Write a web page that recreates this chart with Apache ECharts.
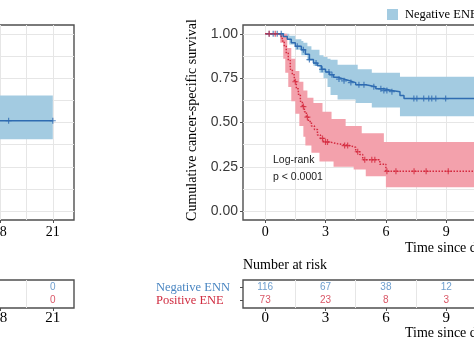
<!DOCTYPE html>
<html><head><meta charset="utf-8">
<script src="https://cdn.jsdelivr.net/npm/echarts@6/dist/echarts.min.js"></script>
<style>html,body{margin:0;padding:0;background:#fff}#c{width:474px;height:362px}</style>
</head><body><div id="c"></div>
<script>
// ---------- data ----------
const negTime = [0, 0.9, 1.1, 1.3, 1.5, 1.8, 2.0, 2.2, 2.4, 2.6, 2.8, 3.0, 3.2, 3.4, 3.6, 3.9, 4.2, 4.5, 5.0, 5.5, 5.9, 6.3, 6.7, 6.9];
const negSurv = [1.0, 0.985, 0.97, 0.95, 0.93, 0.91, 0.885, 0.855, 0.835, 0.82, 0.80, 0.785, 0.77, 0.755, 0.745, 0.735, 0.725, 0.713, 0.702, 0.69, 0.68, 0.674, 0.652, 0.635];
const negEnd = 21;
const negBandTime = [0, 0.9, 1.2, 1.5, 1.8, 1.9, 2.1, 2.3, 2.4, 2.7, 2.9, 3.1, 3.25, 3.6, 4.5, 4.6, 5.3, 6.7];
const negBandLow  = [1.0, 0.97, 0.94, 0.91, 0.88, 0.88, 0.85, 0.85, 0.82, 0.78, 0.75, 0.70, 0.655, 0.63, 0.61, 0.61, 0.585, 0.535];
const negBandHigh = [1.0, 1.0, 0.99, 0.97, 0.96, 0.95, 0.93, 0.91, 0.91, 0.88, 0.87, 0.86, 0.854, 0.826, 0.826, 0.80, 0.78, 0.758];
const negCensor = [0.2, 0.4, 0.6, 0.8, 1.6, 1.9, 2.2, 2.53, 2.83, 3.17, 3.32, 3.67, 3.92, 4.26, 4.66, 4.91, 5.4, 5.75, 5.9, 6.05, 6.3, 7.39, 7.54, 7.88, 8.13, 8.28, 8.48, 8.97];

const posTime = [0, 0.75, 0.85, 0.95, 1.05, 1.15, 1.25, 1.35, 1.45, 1.55, 1.65, 1.75, 1.85, 1.95, 2.05, 2.15, 2.3, 2.45, 2.6, 2.75, 2.9, 3.2, 3.6, 4.2, 4.5, 4.7, 4.85, 5.7, 6.0];
const posSurv = [1.0, 0.985, 0.96, 0.93, 0.89, 0.85, 0.80, 0.77, 0.73, 0.69, 0.66, 0.62, 0.59, 0.56, 0.53, 0.505, 0.48, 0.46, 0.43, 0.41, 0.39, 0.38, 0.37, 0.36, 0.335, 0.32, 0.29, 0.265, 0.225];
const posEnd = 14;
const posBandTime = [0, 0.75, 0.9, 1.0, 1.1, 1.15, 1.3, 1.5, 1.7, 1.9, 2.0, 2.1, 2.3, 2.4, 2.7, 2.85, 3.3, 3.4, 4.0, 4.4, 4.8, 5.0, 5.9, 6.0];
const posBandLow  = [1.0, 0.95, 0.86, 0.78, 0.78, 0.70, 0.62, 0.55, 0.48, 0.42, 0.37, 0.37, 0.33, 0.33, 0.28, 0.28, 0.28, 0.25, 0.25, 0.235, 0.235, 0.197, 0.197, 0.135];
const posBandHigh = [1.0, 1.0, 1.0, 1.0, 0.92, 0.92, 0.86, 0.79, 0.73, 0.68, 0.68, 0.64, 0.64, 0.61, 0.61, 0.56, 0.52, 0.52, 0.48, 0.48, 0.44, 0.44, 0.39, 0.39];
const posCensor = [0.2, 0.5, 1.5, 1.9, 2.1, 2.85, 3.0, 3.1, 3.95, 4.1, 4.6, 4.95, 5.3, 5.45, 6.05, 6.5, 7.4, 8.0, 9.1];

const leftTime = [17, 21];
const leftSurv = [0.51, 0.51];
const leftBandLow = [0.405, 0.405];
const leftBandHigh = [0.652, 0.652];
const leftCensor = [18.5, 21];

const riskTimes = [0, 3, 6, 9];
const riskNeg = [116, 67, 38, 12];
const riskPos = [73, 23, 8, 3];
const leftRiskTimes = [21];
const leftRiskNeg = [0];
const leftRiskPos = [0];

const xTickLabels = [0, 3, 6, 9, 12, 15, 18, 21];
const xGridValues = [0, 1.5, 3, 4.5, 6, 7.5, 9, 10.5, 12, 13.5, 15, 16.5, 18, 19.5, 21, 22.5];
const xRiskGridValues = [1.5, 4.5, 7.5, 10.5, 13.5, 16.5, 19.5, 22.5];
const yTickLabels = [0, 0.25, 0.5, 0.75, 1];
const yGridValues = [0, 0.125, 0.25, 0.375, 0.5, 0.625, 0.75, 0.875, 1];
const riskRowNeg = 2, riskRowPos = 1;
const riskNameNeg = 'Negative ENN', riskNamePos = 'Positive ENE';

// ---------- style ----------
const BLUE = '#2f6cb1', RED = '#d42a3f';
const BLUE_BAND = '#a3cbe1', RED_BAND = '#f3a1ac';
const BLUE_TXT = '#4a86c2', RED_TXT = '#d02c40';
const GRIDC = '#e6e6e6', FRAME = '#4f4f4f';
const SERIF = 'Liberation Serif', SANS = 'Liberation Sans';

const chart = echarts.init(document.getElementById('c'), null, {renderer: 'canvas'});

const grids = [
  {left: -337, top: 25, width: 411, height: 195},   // left main
  {left: 243, top: 25, width: 487, height: 195},    // right main
  {left: -337, top: 280, width: 411, height: 28},   // left risk
  {left: 243, top: 280, width: 487, height: 28}     // right risk
].map(g => Object.assign({show: true, borderColor: FRAME, borderWidth: 1.4, backgroundColor: 'transparent', containLabel: false, outerBoundsMode: 'none'}, g));

const xRange = [[-1.06, 22.2], [-1.1, 23.1], [-1.06, 22.2], [-1.1, 23.1]];
const NOLINE = {show: false, onZero: false};
const xAxes = [], yAxes = [];
function riskLabelAxis(g, row, name, color) {
  return {type: 'value', gridIndex: g, min: 0.4, max: 2.6, position: 'left',
    axisLine: NOLINE, splitLine: {show: false},
    axisTick: {show: true, customValues: [row], length: 3, lineStyle: {color: FRAME}},
    axisLabel: {show: true, customValues: [row], margin: 87, align: 'left', hideOverlap: false,
      formatter: () => name, color: color, fontFamily: SERIF, fontSize: 12.5}};
}
for (let g = 0; g < 4; g++) {
  const isRisk = g >= 2;
  xAxes.push({type: 'value', gridIndex: g, position: 'bottom', min: xRange[g][0], max: xRange[g][1],
    axisLine: NOLINE, axisLabel: {show: false},
    axisTick: {show: false, customValues: isRisk ? xRiskGridValues : xGridValues},
    splitLine: {show: true, lineStyle: {color: GRIDC, width: 1}}});
  xAxes.push({type: 'value', gridIndex: g, position: 'bottom', min: xRange[g][0], max: xRange[g][1],
    axisLine: NOLINE, splitLine: {show: false},
    axisTick: {show: true, customValues: xTickLabels, length: 3, lineStyle: {color: FRAME}},
    axisLabel: {show: true, customValues: xTickLabels, margin: isRisk ? 3 : 5, hideOverlap: false,
      fontFamily: SERIF, fontSize: isRisk ? 15 : 14, color: '#000'}});
  if (!isRisk) {
    yAxes.push({type: 'value', gridIndex: g, position: 'left', min: -0.05, max: 1.05,
      axisLine: NOLINE, axisLabel: {show: false},
      axisTick: {show: false, customValues: yGridValues},
      splitLine: {show: true, lineStyle: {color: GRIDC, width: 1}}});
    yAxes.push({type: 'value', gridIndex: g, min: -0.05, max: 1.05, position: 'left',
      axisLine: NOLINE, splitLine: {show: false},
      axisTick: {show: true, customValues: yTickLabels, length: 3, lineStyle: {color: FRAME}},
      axisLabel: {show: true, customValues: yTickLabels, margin: 5, fontFamily: SANS, fontSize: 14, color: '#3a3a3a',
        hideOverlap: false, formatter: v => v.toFixed(2)}});
  } else {
    yAxes.push({type: 'value', gridIndex: g, position: 'left', min: 0.4, max: 2.6,
      axisLine: NOLINE, axisLabel: {show: false}, axisTick: {show: false}, splitLine: {show: false}});
    yAxes.push(riskLabelAxis(g, riskRowNeg, riskNameNeg, BLUE_TXT));
    yAxes.push(riskLabelAxis(g, riskRowPos, riskNamePos, RED_TXT));
  }
}
// yAxis indices: 0,1 grid0; 2,3 grid1; 4,5,6 grid2; 7,8,9 grid3

function stepAt(times, vals, t) {
  let v = vals[0];
  for (let i = 0; i < times.length; i++) if (times[i] <= t) v = vals[i];
  return v;
}
function bandSeries(xi, yi, times, lo, hi, end, color, z) {
  return {type: 'custom', xAxisIndex: xi, yAxisIndex: yi, silent: true, clip: true, z: z,
    data: [[times[0], lo[0]]],
    renderItem: (params, api) => {
      const pts = [];
      for (let i = 0; i < times.length; i++) {
        const tn = i + 1 < times.length ? times[i + 1] : end;
        pts.push(api.coord([times[i], hi[i]]), api.coord([tn, hi[i]]));
      }
      for (let i = times.length - 1; i >= 0; i--) {
        const tn = i + 1 < times.length ? times[i + 1] : end;
        pts.push(api.coord([tn, lo[i]]), api.coord([times[i], lo[i]]));
      }
      return {type: 'polygon', shape: {points: pts}, style: {fill: color}};
    }};
}
function lineSeries(name, xi, yi, times, surv, end, color, type, z) {
  const d = times.map((t, i) => [t, surv[i]]);
  d.push([end, surv[surv.length - 1]]);
  return {name: name, type: 'line', xAxisIndex: xi, yAxisIndex: yi, step: 'end', symbol: 'none',
    silent: true, z: z, data: d, lineStyle: {color: color, width: 1.5, type: type}, itemStyle: {color: color}};
}
const PLUS = 'path://M4,0H6V4H10V6H6V10H4V6H0V4H4Z';
function censorSeries(name, xi, yi, cens, times, surv, color) {
  return {name: name, type: 'scatter', xAxisIndex: xi, yAxisIndex: yi, symbol: PLUS, symbolSize: 6, silent: true, z: 5,
    data: cens.map(t => [t, stepAt(times, surv, t)]), itemStyle: {color: color}};
}
function riskSeries(xi, yi, times, counts, row, color) {
  return {type: 'scatter', xAxisIndex: xi, yAxisIndex: yi, symbolSize: 1, silent: true, z: 6,
    itemStyle: {color: 'transparent'},
    data: times.map((t, i) => [t, row, counts[i]]),
    label: {show: true, position: 'inside', formatter: p => String(p.value[2]),
      color: color, fontFamily: SANS, fontSize: 10}};
}

const series = [
  bandSeries(0, 0, leftTime, leftBandLow, leftBandHigh, 21, BLUE_BAND, 1),
  lineSeries('left', 0, 0, leftTime, leftSurv, 21, BLUE, 'solid', 3),
  censorSeries('leftc', 0, 0, leftCensor, leftTime, leftSurv, BLUE),
  bandSeries(2, 2, negBandTime, negBandLow, negBandHigh, negEnd, BLUE_BAND, 1),
  bandSeries(2, 2, posBandTime, posBandLow, posBandHigh, posEnd, RED_BAND, 2),
  lineSeries('Negative ENE', 2, 2, negTime, negSurv, negEnd, BLUE, 'solid', 3),
  lineSeries('Positive ENE', 2, 2, posTime, posSurv, posEnd, RED, 'dotted', 4),
  censorSeries('Negative ENE', 2, 2, negCensor, negTime, negSurv, BLUE),
  censorSeries('Positive ENE', 2, 2, posCensor, posTime, posSurv, RED),
  riskSeries(4, 4, leftRiskTimes, leftRiskNeg, riskRowNeg, BLUE_TXT),
  riskSeries(4, 4, leftRiskTimes, leftRiskPos, riskRowPos, RED_TXT),
  riskSeries(6, 7, riskTimes, riskNeg, riskRowNeg, BLUE_TXT),
  riskSeries(6, 7, riskTimes, riskPos, riskRowPos, RED_TXT)
];

const txt = (x, y, text, font, size, fill, extra) => Object.assign({type: 'text', x: x, y: y, z: 100, silent: true,
  style: {text: text, fontFamily: font, fontSize: size, fill: fill, align: 'left', verticalAlign: 'middle'}}, extra || {});

chart.setOption({
  animation: false,
  backgroundColor: '#fff',
  grid: grids,
  xAxis: xAxes,
  yAxis: yAxes,
  legend: {left: 382, top: 3, width: 600, orient: 'horizontal', itemWidth: 11, itemHeight: 11, itemGap: 20, selectedMode: false,
    textStyle: {fontFamily: SERIF, fontSize: 12.5, color: '#000', padding: [0, 0, 0, 2]},
    data: [{name: 'Negative ENE', icon: 'rect', itemStyle: {color: BLUE_BAND}},
           {name: 'Positive ENE', icon: 'rect', itemStyle: {color: RED_BAND}}]},
  graphic: [
    {type: 'text', x: 192, y: 120, z: 100, rotation: Math.PI / 2, silent: true,
      style: {text: 'Cumulative cancer-specific survival', fontFamily: SERIF, fontSize: 14, fill: '#000', align: 'center', verticalAlign: 'middle'}},
    txt(273, 160, 'Log-rank', SANS, 10.5, '#222'),
    txt(273, 177, 'p < 0.0001', SANS, 10.5, '#222'),
    txt(405, 248, 'Time since diagnosis (months)', SERIF, 14, '#000'),
    txt(243, 265, 'Number at risk', SERIF, 14, '#000'),
    txt(405, 333, 'Time since diagnosis (months)', SERIF, 14, '#000')
  ],
  series: series
});
</script></body></html>
